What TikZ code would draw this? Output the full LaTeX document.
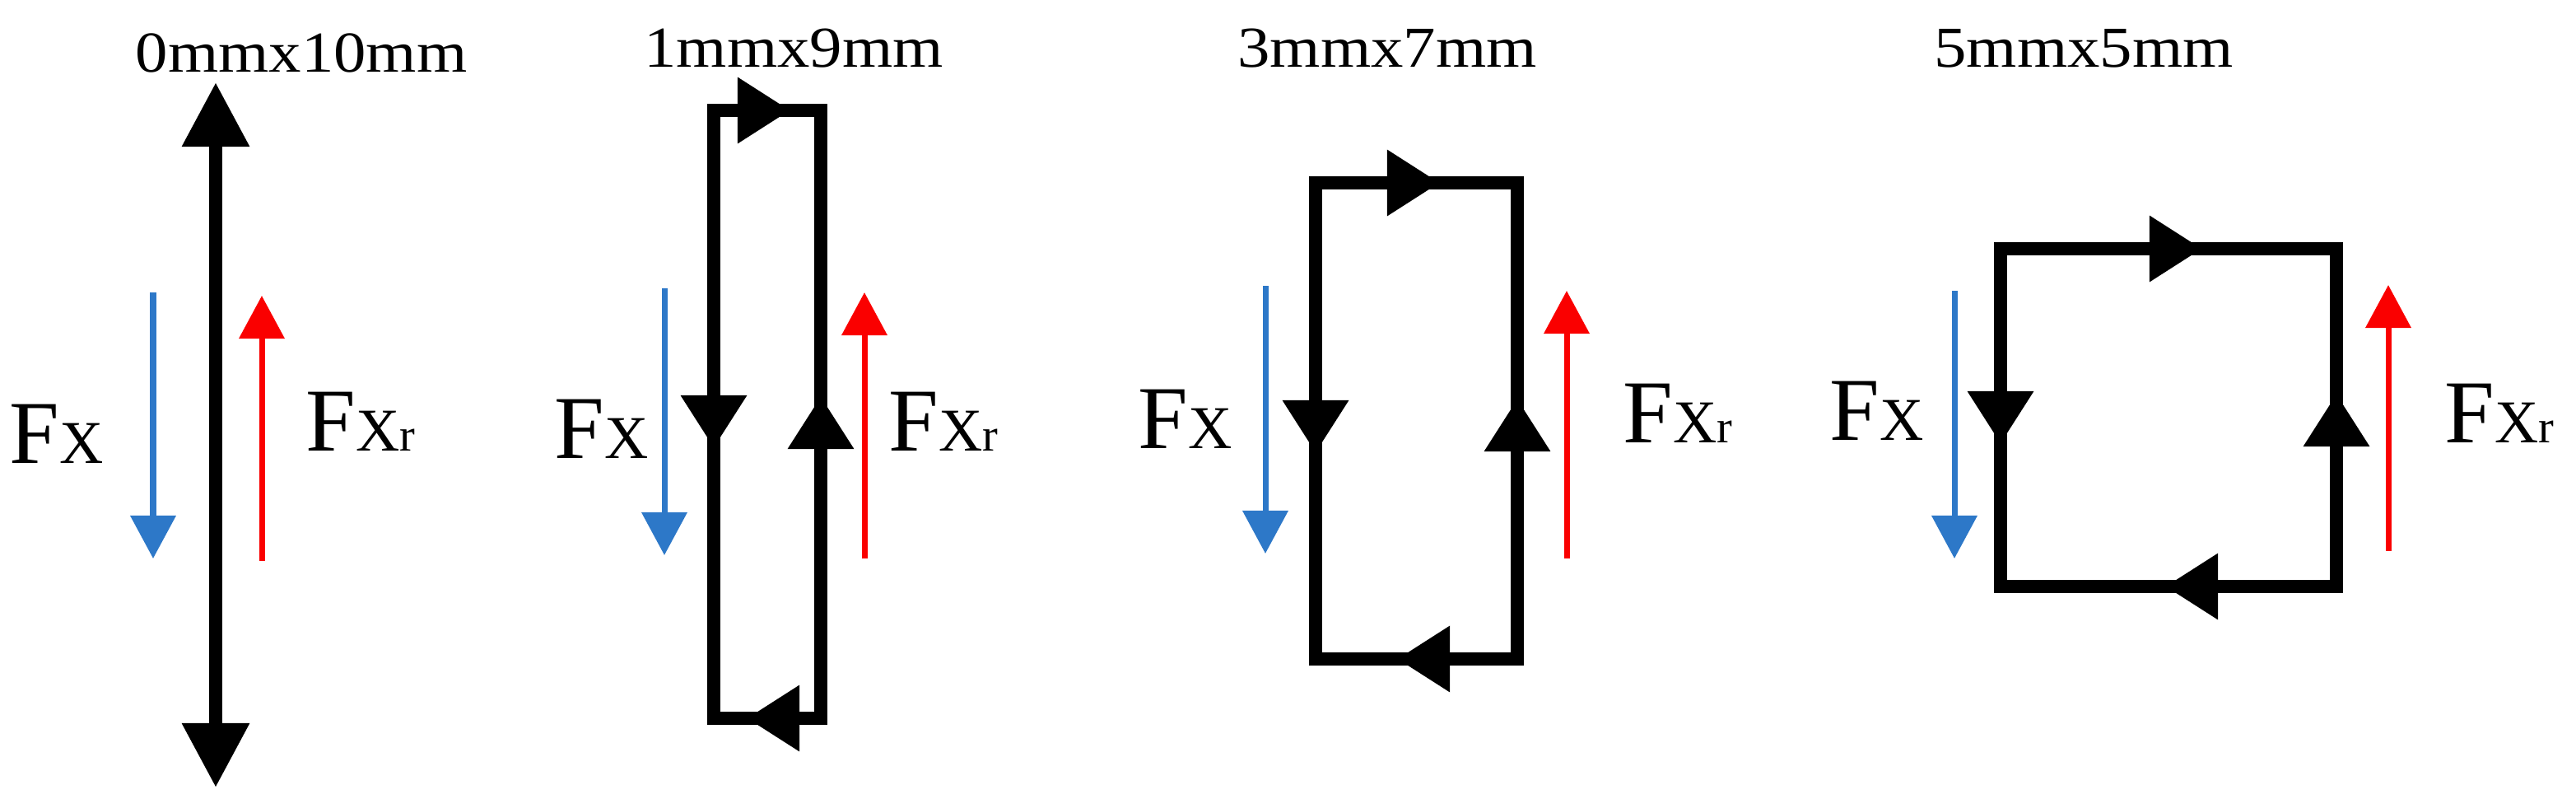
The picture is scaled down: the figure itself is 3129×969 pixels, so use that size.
\documentclass[tikz,border=0pt]{standalone}
\usepackage{fontspec}
\setmainfont{Liberation Serif}
\usetikzlibrary{arrows.meta}
\definecolor{fblue}{RGB}{45,120,200}
\definecolor{fred}{RGB}{250,0,0}
\tikzset{
  loopline/.style={line width=0.16cm, line join=miter},
  bigtip/.style={-{Triangle[length=0.78cm,width=0.78cm]}},
  midtip/.style={line width=0.16cm,-{Triangle[length=0.64cm,width=0.76cm]}},
  force/.style={line width=0.07cm,-{Triangle[length=0.52cm,width=0.54cm]}},
  title/.style={inner sep=0pt, anchor=base, font=\fontsize{20}{24}\selectfont},
  flabel/.style={inner sep=0pt, anchor=base west},
}
\newcommand{\FX}{{\fontsize{31}{34}\selectfont F}{\fontsize{21}{26}\selectfont X}}
\newcommand{\FXr}{{\fontsize{31}{34}\selectfont F}{\fontsize{21}{26}\selectfont X}{\fontsize{16}{18}\selectfont r}}
\begin{document}
\begin{tikzpicture}[x=0.01cm,y=-0.01cm]
\useasboundingbox (0,0) rectangle (3129,969);
% Panel 1
\node[title] (t1) at (366,87) {\scalebox{1.12}[1]{0mmx10mm}};
\coordinate (m1) at (262,528);
\coordinate (top1) at (262,100);
\coordinate (bot1) at (262,956);
\draw[line width=0.16cm,bigtip] (m1) -- (top1);
\draw[line width=0.16cm,bigtip] (m1) -- (bot1);
\draw[force,fblue] (186,355) -- (186,678);
\draw[force,fred] (318,681) -- (318,359);
\node[flabel] (fx1) at (11,562) {\FX};
\node[flabel] (fxr1) at (371,547) {\FXr};
% Panel 2
\node[title] (t2) at (964,81) {\scalebox{1.12}[1]{1mmx9mm}};
\draw[loopline] (867,134) rectangle (997,872);
\draw[midtip] (880,134) -- (960,134);
\draw[midtip] (867,470) -- (867,544);
\draw[midtip] (997,555) -- (997,481);
\draw[midtip] (985,872) -- (907,872);
\draw[force,fblue] (807,350) -- (807,674);
\draw[force,fred] (1050,678) -- (1050,355);
\node[flabel] (fx2) at (673,556) {\FX};
\node[flabel] (fxr2) at (1079,547) {\FXr};
% Panel 3
\node[title] (t3) at (1685,81) {\scalebox{1.12}[1]{3mmx7mm}};
\draw[loopline] (1598,222) rectangle (1843,800);
\draw[midtip] (1675,222) -- (1749,222);
\draw[midtip] (1598,470) -- (1598,550);
\draw[midtip] (1843,564) -- (1843,484);
\draw[midtip] (1770,800) -- (1697,800);
\draw[force,fblue] (1537,347) -- (1537,672);
\draw[force,fred] (1903,678) -- (1903,353);
\node[flabel] (fx3) at (1382,544) {\FX};
\node[flabel] (fxr3) at (1971,537) {\FXr};
% Panel 4
\node[title] (t4) at (2531,81) {\scalebox{1.12}[1]{5mmx5mm}};
\draw[loopline] (2430,302) rectangle (2838,712);
\draw[midtip] (2600,302) -- (2675,302);
\draw[midtip] (2430,464) -- (2430,539);
\draw[midtip] (2838,553) -- (2838,478);
\draw[midtip] (2700,712) -- (2630,712);
\draw[force,fblue] (2374,353) -- (2374,678);
\draw[force,fred] (2901,669) -- (2901,346);
\node[flabel] (fx4) at (2222,534) {\FX};
\node[flabel] (fxr4) at (2969,537) {\FXr};
\end{tikzpicture}
\end{document}
